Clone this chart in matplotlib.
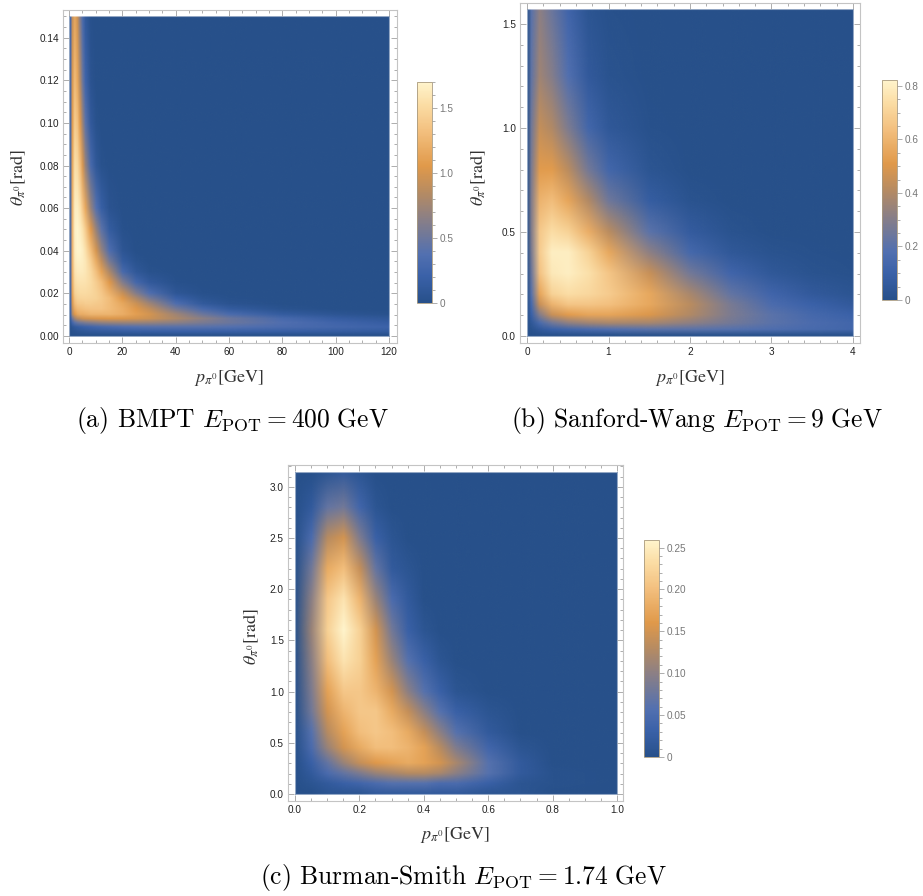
import numpy as np
import matplotlib
matplotlib.use('Agg')
import matplotlib.pyplot as plt
from matplotlib.image import NonUniformImage
from matplotlib.colors import LinearSegmentedColormap
from matplotlib.patches import Rectangle
from matplotlib.ticker import MultipleLocator

plt.rcParams['font.family'] = ['Liberation Sans', 'DejaVu Sans']

# ---- data (density values on coarse grids) ----
# (a) BMPT, 400 GeV
a_p = [0, 0.5, 1, 2, 3, 4, 5, 6, 8, 10, 12, 15, 20, 25, 30, 40, 50, 60, 80, 100, 120]
a_theta = [0, 0.002, 0.004, 0.006, 0.008, 0.01, 0.0125, 0.015, 0.0175, 0.02,
           0.025, 0.03, 0.035, 0.04, 0.05, 0.06, 0.08, 0.10, 0.12, 0.15]
a_vals = [
    [0] * 21,
    [0, 0.01, 0.03, 0.05, 0.07, 0.08, 0.09, 0.10, 0.12, 0.13, 0.14, 0.15, 0.17, 0.18, 0.19, 0.20, 0.20, 0.20, 0.19, 0.17, 0.15],
    [0, 0.03, 0.08, 0.13, 0.16, 0.18, 0.20, 0.22, 0.25, 0.28, 0.30, 0.33, 0.36, 0.38, 0.40, 0.40, 0.40, 0.38, 0.33, 0.28, 0.23],
    [0, 0.10, 0.25, 0.40, 0.48, 0.52, 0.55, 0.58, 0.62, 0.65, 0.68, 0.70, 0.72, 0.72, 0.70, 0.65, 0.57, 0.50, 0.36, 0.25, 0.17],
    [0, 0.20, 0.50, 0.75, 0.85, 0.90, 0.95, 0.98, 1.00, 1.02, 1.03, 1.04, 1.03, 1.00, 0.95, 0.80, 0.65, 0.50, 0.30, 0.17, 0.10],
    [0, 0.30, 0.80, 1.05, 1.15, 1.20, 1.20, 1.22, 1.25, 1.25, 1.25, 1.25, 1.20, 1.10, 1.00, 0.75, 0.50, 0.32, 0.15, 0.07, 0.03],
    [0, 0.33, 0.90, 1.20, 1.28, 1.30, 1.32, 1.33, 1.35, 1.35, 1.35, 1.30, 1.20, 1.05, 0.90, 0.55, 0.30, 0.15, 0.04, 0.01, 0],
    [0, 0.35, 1.00, 1.30, 1.38, 1.40, 1.40, 1.42, 1.42, 1.40, 1.38, 1.30, 1.15, 0.95, 0.75, 0.35, 0.13, 0.05, 0.01, 0, 0],
    [0, 0.38, 1.05, 1.38, 1.45, 1.47, 1.48, 1.48, 1.47, 1.45, 1.40, 1.30, 1.05, 0.80, 0.55, 0.20, 0.06, 0.02, 0, 0, 0],
    [0, 0.40, 1.10, 1.45, 1.50, 1.52, 1.52, 1.52, 1.50, 1.45, 1.38, 1.22, 0.92, 0.60, 0.35, 0.08, 0.02, 0, 0, 0, 0],
    [0, 0.42, 1.15, 1.52, 1.57, 1.58, 1.58, 1.57, 1.52, 1.42, 1.30, 1.05, 0.60, 0.28, 0.12, 0.02, 0, 0, 0, 0, 0],
    [0, 0.44, 1.18, 1.58, 1.63, 1.64, 1.63, 1.60, 1.50, 1.32, 1.12, 0.80, 0.30, 0.10, 0.03, 0, 0, 0, 0, 0, 0],
    [0, 0.45, 1.20, 1.62, 1.67, 1.67, 1.65, 1.60, 1.42, 1.18, 0.90, 0.55, 0.15, 0.04, 0.01, 0, 0, 0, 0, 0, 0],
    [0, 0.45, 1.20, 1.65, 1.70, 1.70, 1.65, 1.55, 1.30, 1.00, 0.70, 0.35, 0.07, 0.01, 0, 0, 0, 0, 0, 0, 0],
    [0, 0.45, 1.20, 1.67, 1.70, 1.65, 1.55, 1.40, 1.05, 0.70, 0.42, 0.15, 0.02, 0, 0, 0, 0, 0, 0, 0, 0],
    [0, 0.45, 1.18, 1.65, 1.65, 1.55, 1.35, 1.15, 0.70, 0.38, 0.18, 0.05, 0, 0, 0, 0, 0, 0, 0, 0, 0],
    [0, 0.45, 1.12, 1.55, 1.50, 1.30, 1.00, 0.70, 0.30, 0.10, 0.03, 0, 0, 0, 0, 0, 0, 0, 0, 0, 0],
    [0, 0.42, 1.05, 1.42, 1.32, 1.05, 0.70, 0.42, 0.12, 0.03, 0, 0, 0, 0, 0, 0, 0, 0, 0, 0, 0],
    [0, 0.40, 1.00, 1.30, 1.15, 0.82, 0.48, 0.24, 0.05, 0.01, 0, 0, 0, 0, 0, 0, 0, 0, 0, 0, 0],
    [0, 0.35, 0.90, 1.15, 0.95, 0.60, 0.30, 0.13, 0.02, 0, 0, 0, 0, 0, 0, 0, 0, 0, 0, 0, 0],
]

# (b) Sanford-Wang, 9 GeV
b_p = [0, 0.05, 0.15, 0.3, 0.5, 0.75, 1.0, 1.5, 2.0, 2.5, 3.0, 3.5, 4.0]
b_theta = [0, 0.03, 0.06, 0.1, 0.15, 0.2, 0.3, 0.4, 0.5, 0.65, 0.8, 1.0,
           1.25, np.pi / 2]
b_vals = [
    [0] * 13,
    [0, 0.02, 0.06, 0.10, 0.13, 0.16, 0.18, 0.20, 0.20, 0.19, 0.17, 0.15, 0.13],
    [0, 0.05, 0.15, 0.25, 0.32, 0.36, 0.38, 0.37, 0.32, 0.26, 0.20, 0.16, 0.13],
    [0, 0.10, 0.30, 0.45, 0.52, 0.55, 0.55, 0.50, 0.40, 0.28, 0.20, 0.14, 0.10],
    [0, 0.15, 0.45, 0.60, 0.66, 0.66, 0.64, 0.56, 0.42, 0.27, 0.16, 0.10, 0.06],
    [0, 0.20, 0.55, 0.70, 0.74, 0.72, 0.68, 0.56, 0.38, 0.22, 0.12, 0.06, 0.03],
    [0, 0.25, 0.65, 0.78, 0.80, 0.75, 0.66, 0.45, 0.26, 0.12, 0.05, 0.02, 0.01],
    [0, 0.28, 0.68, 0.80, 0.80, 0.70, 0.56, 0.32, 0.14, 0.05, 0.02, 0.01, 0],
    [0, 0.30, 0.67, 0.74, 0.70, 0.58, 0.42, 0.20, 0.07, 0.02, 0, 0, 0],
    [0, 0.30, 0.60, 0.63, 0.55, 0.40, 0.25, 0.08, 0.02, 0, 0, 0, 0],
    [0, 0.28, 0.52, 0.52, 0.42, 0.26, 0.13, 0.03, 0, 0, 0, 0, 0],
    [0, 0.26, 0.44, 0.40, 0.28, 0.13, 0.05, 0.01, 0, 0, 0, 0, 0],
    [0, 0.22, 0.36, 0.30, 0.18, 0.06, 0.02, 0, 0, 0, 0, 0, 0],
    [0, 0.20, 0.32, 0.24, 0.12, 0.03, 0.01, 0, 0, 0, 0, 0, 0],
]

# (c) Burman-Smith, 1.74 GeV
c_p = [0, 0.05, 0.1, 0.15, 0.2, 0.25, 0.3, 0.35, 0.4, 0.45, 0.5, 0.6, 0.7, 0.8, 1.0]
c_theta = [0, 0.1, 0.2, 0.3, 0.45, 0.6, 0.8, 1.0, 1.3, 1.6, 1.9, 2.2, 2.5,
           2.8, np.pi]
c_vals = [
    [0, 0, 0.01, 0.01, 0.01, 0.02, 0.02, 0.02, 0.02, 0.02, 0.02, 0.01, 0.01, 0, 0],
    [0, 0.01, 0.02, 0.03, 0.04, 0.05, 0.06, 0.06, 0.06, 0.05, 0.05, 0.03, 0.01, 0.005, 0],
    [0, 0.02, 0.05, 0.07, 0.09, 0.11, 0.12, 0.13, 0.13, 0.12, 0.10, 0.06, 0.02, 0.005, 0],
    [0, 0.03, 0.07, 0.11, 0.14, 0.16, 0.17, 0.18, 0.17, 0.15, 0.12, 0.06, 0.02, 0, 0],
    [0, 0.05, 0.11, 0.15, 0.18, 0.20, 0.20, 0.19, 0.17, 0.13, 0.09, 0.04, 0.01, 0, 0],
    [0, 0.06, 0.13, 0.17, 0.20, 0.21, 0.20, 0.18, 0.14, 0.10, 0.06, 0.02, 0, 0, 0],
    [0, 0.08, 0.15, 0.19, 0.21, 0.21, 0.18, 0.14, 0.10, 0.06, 0.03, 0.01, 0, 0, 0],
    [0, 0.09, 0.17, 0.21, 0.21, 0.19, 0.15, 0.10, 0.06, 0.03, 0.01, 0, 0, 0, 0],
    [0, 0.10, 0.20, 0.24, 0.22, 0.17, 0.11, 0.06, 0.03, 0.01, 0, 0, 0, 0, 0],
    [0, 0.11, 0.22, 0.26, 0.22, 0.15, 0.08, 0.03, 0.01, 0, 0, 0, 0, 0, 0],
    [0, 0.10, 0.21, 0.24, 0.19, 0.11, 0.05, 0.02, 0, 0, 0, 0, 0, 0, 0],
    [0, 0.08, 0.18, 0.20, 0.14, 0.07, 0.02, 0.01, 0, 0, 0, 0, 0, 0, 0],
    [0, 0.05, 0.13, 0.15, 0.09, 0.03, 0.01, 0, 0, 0, 0, 0, 0, 0, 0],
    [0, 0.02, 0.07, 0.08, 0.04, 0.01, 0, 0, 0, 0, 0, 0, 0, 0, 0],
    [0, 0, 0.01, 0.02, 0.01, 0, 0, 0, 0, 0, 0, 0, 0, 0, 0],
]

a_cbar_ticks = [0, 0.5, 1.0, 1.5]
a_cbar_labels = ['0', '0.5', '1.0', '1.5']
b_cbar_ticks = [0, 0.2, 0.4, 0.6, 0.8]
b_cbar_labels = ['0', '0.2', '0.4', '0.6', '0.8']
c_cbar_ticks = [0, 0.05, 0.10, 0.15, 0.20, 0.25]
c_cbar_labels = ['0', '0.05', '0.10', '0.15', '0.20', '0.25']

captions = [r'$\text{(a) BMPT }E_{\mathrm{POT}}=400\ \text{GeV}$',
            r'$\text{(b) Sanford-Wang }E_{\mathrm{POT}}=9\ \text{GeV}$',
            r'$\text{(c) Burman-Smith }E_{\mathrm{POT}}=1.74\ \text{GeV}$']

# Mathematica-like density gradient
cmap = LinearSegmentedColormap.from_list('m10', [
    (0.00, '#27508a'), (0.12, '#3a61a8'), (0.22, '#5270b0'),
    (0.38, '#8a7f86'), (0.50, '#b68b62'), (0.62, '#e0994a'),
    (0.78, '#f3c07f'), (0.90, '#fbdda5'), (1.00, '#fff4cc')])

W, H = 923, 896
fig = plt.figure(figsize=(W / 100, H / 100), dpi=100)


def box(l, t, r, b):
    return [l / W, 1 - b / H, (r - l) / W, (b - t) / H]


def panel(frame, cbox, p, th, vals, vmax, xlim, ylim, xmaj, xmin, ymaj, ymin,
          xfmt, yfmt, cticks, clabels, cminor, xlab_pos, ylab_pos):
    ax = fig.add_axes(box(*frame))
    im = NonUniformImage(ax, interpolation='bilinear', cmap=cmap)
    im.set_data(np.array(p, float), np.array(th, float), np.array(vals, float))
    im.set_clim(0, vmax)
    ax.add_image(im)
    clip = Rectangle((p[0], th[0]), p[-1] - p[0], th[-1] - th[0],
                     transform=ax.transData)
    im.set_clip_path(clip)
    ax.add_patch(Rectangle((p[0], th[0]), p[-1] - p[0], th[-1] - th[0],
                           fill=False, ec='white', lw=0.8, alpha=0.5))
    ax.set_xlim(xlim)
    ax.set_ylim(ylim)
    ax.xaxis.set_major_locator(MultipleLocator(xmaj))
    ax.xaxis.set_minor_locator(MultipleLocator(xmin))
    ax.yaxis.set_major_locator(MultipleLocator(ymaj))
    ax.yaxis.set_minor_locator(MultipleLocator(ymin))
    ax.xaxis.set_major_formatter(xfmt)
    ax.yaxis.set_major_formatter(yfmt)
    ax.tick_params(which='both', direction='in', top=True, right=True,
                   color='#a0a0a0', width=0.6, labelsize=7.2,
                   labelcolor='#222222', pad=3)
    ax.tick_params(which='major', length=4)
    ax.tick_params(which='minor', length=2.2)
    for s in ax.spines.values():
        s.set_color('#c4c4c4')
        s.set_linewidth(0.8)

    fig.text(xlab_pos[0] / W, 1 - xlab_pos[1] / H, r'$p_{\pi^0}[\mathrm{GeV}]$',
             math_fontfamily='stix', fontsize=13, ha='center', va='center',
             color='#333333')
    fig.text(ylab_pos[0] / W, 1 - ylab_pos[1] / H, r'$\theta_{\pi^0}[\mathrm{rad}]$',
             math_fontfamily='stix', fontsize=13, ha='center', va='center',
             rotation=90, color='#333333')

    cax = fig.add_axes(box(*cbox))
    cb = fig.colorbar(im, cax=cax)
    cb.set_ticks(cticks, labels=clabels)
    cb.ax.yaxis.set_minor_locator(MultipleLocator(cminor))
    cb.ax.tick_params(which='both', direction='out', color='#a0a0a0',
                      width=0.6, labelsize=7.2, labelcolor='#777777', pad=2)
    cb.ax.tick_params(which='major', length=3.5)
    cb.ax.tick_params(which='minor', length=2)
    cb.outline.set_edgecolor('#a89a80')
    cb.outline.set_linewidth(0.6)
    return ax


panel((63, 10, 397, 343), (417, 82, 432, 303), a_p, a_theta, a_vals, 1.70,
      (-2.25, 123.0), (-0.0033, 0.153), 20, 5, 0.02, 0.005,
      lambda v, pos: f'{v:.0f}', lambda v, pos: f'{v:.2f}',
      a_cbar_ticks, a_cbar_labels, 0.1, (229, 378), (18, 178))

panel((520, 3, 860, 343), (882, 80, 897, 300), b_p, b_theta, b_vals, 0.822,
      (-0.086, 4.086), (-0.0337, 1.601), 1, 0.2, 0.5, 0.1,
      lambda v, pos: f'{v:.0f}', lambda v, pos: f'{v:.1f}',
      b_cbar_ticks, b_cbar_labels, 0.05, (690, 378), (478, 178))

panel((288, 465, 623, 801), (644, 540, 659, 757), c_p, c_theta, c_vals, 0.259,
      (-0.0217, 1.0186), (-0.068, 3.213), 0.2, 0.05, 0.5, 0.1,
      lambda v, pos: f'{v:.1f}', lambda v, pos: f'{v:.1f}',
      c_cbar_ticks, c_cbar_labels, 0.01, (455, 835), (251, 637))

for (x, y), txt in zip([(232, 421), (697, 421), (463, 877)], captions):
    fig.text(x / W, 1 - y / H, txt, math_fontfamily='cm', fontsize=18.4,
             ha='center', va='center')

fig.savefig('out.png', dpi=100)
